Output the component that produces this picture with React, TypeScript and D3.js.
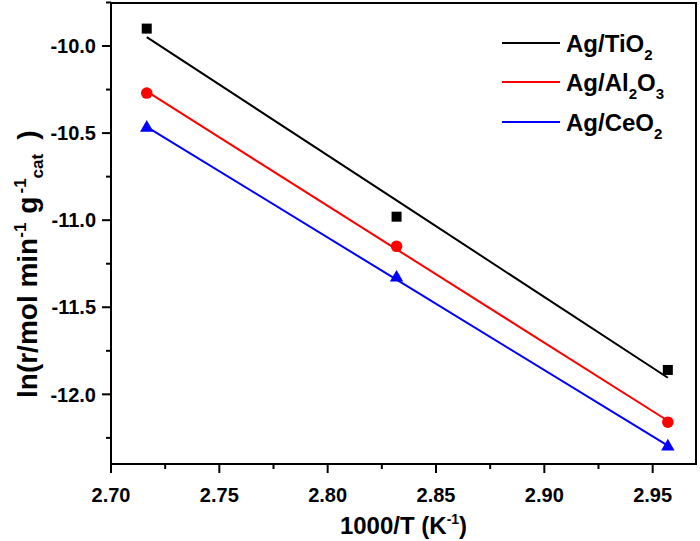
import React from 'react';
import * as d3 from 'd3';

const invT = [2.7165, 2.8318, 2.957];
const tio2 = [-9.9, -10.98, -11.86];
const al2o3 = [-10.27, -11.15, -12.16];
const ceo2 = [-10.47, -11.33, -12.3];
const xTicks = [2.7, 2.75, 2.8, 2.85, 2.9, 2.95];
const xMinor = [2.725, 2.775, 2.825, 2.875, 2.925];
const yTicks = [-10.0, -10.5, -11.0, -11.5, -12.0];
const yMinor = [-9.75, -10.25, -10.75, -11.25, -11.75, -12.25];

const W = 700, H = 541;
const L = 111, R = 696, T = 3, B = 464;
const FONT = '"Liberation Sans", Arial, sans-serif';

const x = d3.scaleLinear().domain([2.7, 2.97]).range([L, R]);
const y = d3.scaleLinear().domain([-12.4, -9.753]).range([B, T]);

function fit(xs: number[], ys: number[]) {
  const mx = d3.mean(xs)!, my = d3.mean(ys)!;
  let sxy = 0, sxx = 0;
  xs.forEach((v, i) => { sxy += (v - mx) * (ys[i] - my); sxx += (v - mx) * (v - mx); });
  const b = sxy / sxx;
  const a = my - b * mx;
  return xs.map((v) => [v, a + b * v] as [number, number]);
}

const series = [
  { key: 'tio2', vals: tio2, color: '#000000', shape: 'square', label: ['Ag/TiO', '2'] },
  { key: 'al2o3', vals: al2o3, color: '#ff0000', shape: 'circle', label: ['Ag/Al', '2', 'O', '3'] },
  { key: 'ceo2', vals: ceo2, color: '#0000ff', shape: 'triangle', label: ['Ag/CeO', '2'] },
];

const line = d3.line<[number, number]>().x((d) => x(d[0])).y((d) => y(d[1]));

function Marker({ shape, cx, cy, color }: { shape: string; cx: number; cy: number; color: string }) {
  if (shape === 'square') {
    return <rect x={cx - 5} y={cy - 5} width={10} height={10} fill={color} />;
  }
  if (shape === 'circle') {
    return <circle cx={cx} cy={cy} r={5.8} fill={color} />;
  }
  const sym = d3.symbol().type(d3.symbolTriangle).size(78)();
  return <path d={sym || ''} transform={`translate(${cx},${cy})`} fill={color} />;
}

export default function App() {
  const legendY = [43, 82, 122];
  return (
    <svg width={W} height={H} style={{ position: 'absolute', left: 0, top: 0, background: '#fff' }} fontFamily={FONT}>
      <rect x={0} y={0} width={W} height={H} fill="#fff" />
      {series.map((s) => (
        <g key={s.key}>
          <path d={line(fit(invT, s.vals)) || ''} stroke={s.color} strokeWidth={2} fill="none" />
          {invT.map((t, i) => (
            <Marker key={i} shape={s.shape} cx={x(t)} cy={y(s.vals[i])} color={s.color} />
          ))}
        </g>
      ))}
      <rect x={L} y={T} width={R - L} height={B - T} fill="none" stroke="#000" strokeWidth={2} />
      {xTicks.map((t) => (
        <g key={t}>
          <line x1={x(t)} x2={x(t)} y1={B} y2={B + 9} stroke="#000" strokeWidth={2} />
          <text x={x(t)} y={502} textAnchor="middle" fontSize={20} fontWeight="bold">{t.toFixed(2)}</text>
        </g>
      ))}
      {xMinor.map((t) => (
        <line key={t} x1={x(t)} x2={x(t)} y1={B} y2={B + 5} stroke="#000" strokeWidth={2} />
      ))}
      {yTicks.map((t) => (
        <g key={t}>
          <line x1={L - 9} x2={L} y1={y(t)} y2={y(t)} stroke="#000" strokeWidth={2} />
          <text x={96} y={y(t)} dy="0.36em" textAnchor="end" fontSize={20} fontWeight="bold">{t.toFixed(1)}</text>
        </g>
      ))}
      {yMinor.map((t) => (
        <line key={t} x1={L - 5} x2={L} y1={y(t)} y2={y(t)} stroke="#000" strokeWidth={2} />
      ))}
      <text x={(L + R) / 2} y={534} textAnchor="middle" fontSize={24} fontWeight="bold">
        1000/T (K<tspan fontSize={14} dy={-10}>-1</tspan><tspan dy={10}>)</tspan>
      </text>
      <text transform={`translate(37,398) rotate(-90)`} textAnchor="start" fontSize={28} fontWeight="bold">
        ln(r/mol min<tspan fontSize={17} dy={-11}>-1</tspan>
        <tspan dy={11} dx={9}>g</tspan>
        <tspan fontSize={17} dx={3} dy={-11}>-1</tspan>
        <tspan fontSize={17} dy={17}>cat</tspan>
        <tspan dy={-6} dx={14}>)</tspan>
      </text>
      {series.map((s, i) => (
        <g key={s.key}>
          <line x1={502} x2={560} y1={legendY[i]} y2={legendY[i]} stroke={s.color} strokeWidth={2} />
          <text x={566} y={legendY[i] + 8.5} fontSize={24} fontWeight="bold">
            {s.label.map((part, j) =>
              j % 2 === 0 ? (
                <tspan key={j} fontSize={24} dy={j === 0 ? 0 : -8}>{part}</tspan>
              ) : (
                <tspan key={j} fontSize={15} dy={8}>{part}</tspan>
              )
            )}
          </text>
        </g>
      ))}
    </svg>
  );
}
